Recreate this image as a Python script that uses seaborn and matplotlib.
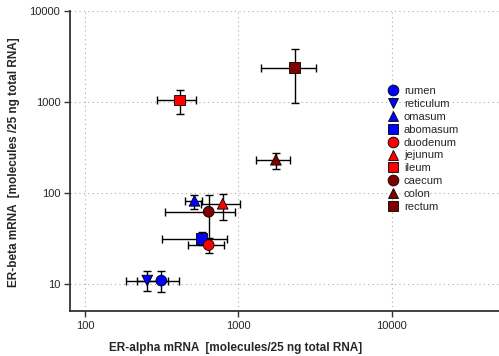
import numpy as np
import pandas as pd
import seaborn as sns
import matplotlib.pyplot as plt

# ER-alpha / ER-beta mRNA per tissue
tissues = ['rumen', 'reticulum', 'omasum', 'abomasum', 'duodenum',
           'jejunum', 'ileum', 'caecum', 'colon', 'rectum']
er_alpha = [315, 255, 518, 578, 641, 791, 414, 641, 1758, 2335]
er_alpha_lo = [220, 184, 446, 318, 469, 575, 294, 334, 1309, 1416]
er_alpha_hi = [410, 346, 583, 840, 811, 1026, 533, 946, 2178, 3221]
er_beta = [10.8, 10.8, 81.6, 31.3, 26.6, 75.7, 1052, 61.8, 231, 2383]
er_beta_lo = [8.0, 8.2, 66.7, 26.8, 21.7, 50.5, 738, 28.3, 184, 968]
er_beta_hi = [13.9, 13.9, 94, 37, 32, 97.5, 1356, 94.4, 273, 3820]

colors = ['#0000ff'] * 4 + ['#ff0000'] * 3 + ['#800000'] * 3
markers = ['o', 'v', '^', 's', 'o', '^', 's', 'o', '^', 's']

df = pd.DataFrame({'tissue': tissues, 'alpha': er_alpha, 'beta': er_beta})

sns.set_style('white')
plt.rcParams['font.family'] = ['Liberation Sans', 'DejaVu Sans']

fig = plt.figure(figsize=(4.99, 3.56), dpi=100)
ax = fig.add_axes([70 / 499, 1 - 311 / 356, 429 / 499, 300 / 356])

# error bars behind the markers
xerr = [np.array(er_alpha) - np.array(er_alpha_lo), np.array(er_alpha_hi) - np.array(er_alpha)]
yerr = [np.array(er_beta) - np.array(er_beta_lo), np.array(er_beta_hi) - np.array(er_beta)]
ax.errorbar(df['alpha'], df['beta'], xerr=xerr, yerr=yerr, fmt='none',
            ecolor='black', elinewidth=1, capsize=3, capthick=1, zorder=2)

sns.scatterplot(data=df, x='alpha', y='beta', hue='tissue', style='tissue',
                palette=dict(zip(tissues, colors)), markers=dict(zip(tissues, markers)),
                s=60, edgecolor='black', linewidth=0.6, zorder=3, ax=ax)

ax.set_xscale('log')
ax.set_yscale('log')
ax.set_xlim(80, 50000)
ax.set_ylim(5, 10000)
ax.set_xticks([100, 1000, 10000])
ax.set_xticklabels(['100', '1000', '10000'])
ax.set_yticks([10, 100, 1000, 10000])
ax.set_yticklabels(['10', '100', '1000', '10000'])
ax.minorticks_off()
ax.tick_params(axis='both', which='major', direction='out', length=4, width=1,
               color='#333333', labelsize=8, pad=3, bottom=True, left=True)

ax.grid(True, which='major', linestyle=(0, (1, 3)), color='#aaaaaa', linewidth=0.8)
ax.set_axisbelow(True)

for side in ['top', 'right']:
    ax.spines[side].set_visible(False)
for side in ['left', 'bottom']:
    ax.spines[side].set_color('#333333')
    ax.spines[side].set_linewidth(1.3)

ax.set_xlabel('ER-alpha mRNA  [molecules/25 ng total RNA]', fontsize=8.5, fontweight='bold')
ax.set_ylabel('ER-beta mRNA  [molecules /25 ng total RNA]', fontsize=8.5, fontweight='bold')
ax.xaxis.set_label_coords(0.385, -0.105)
ax.yaxis.set_label_coords(-0.117, 0.497)

handles, labels = ax.get_legend_handles_labels()
ax.get_legend().remove()
leg = fig.legend(handles, labels, loc='upper left', bbox_transform=fig.transFigure,
                 bbox_to_anchor=(386 / 499, 1 - 86 / 356), frameon=False,
                 fontsize=8, labelspacing=0.26, handletextpad=0.4,
                 handlelength=1.2, borderpad=0, borderaxespad=0, markerscale=1.0)

plt.savefig('out.png', dpi=100)
